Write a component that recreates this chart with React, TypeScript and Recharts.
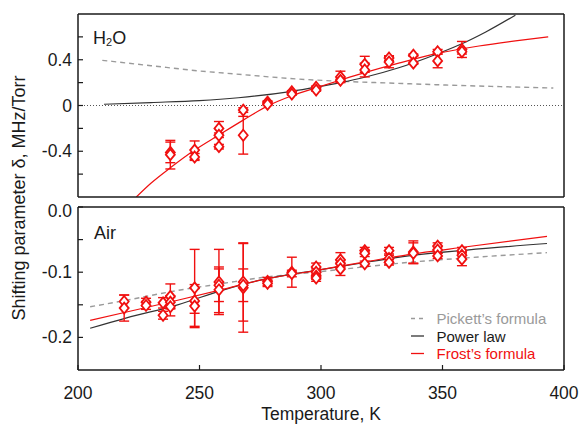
import React from 'react';
import { ComposedChart, Line, Scatter, XAxis, YAxis, ErrorBar, ReferenceLine } from 'recharts';

const RED = '#f01010';
const GREY = '#9a9a9a';
const DARK = '#333333';
const INK = '#1a1a1a';
const FONT = '"Liberation Sans", Arial, Helvetica, sans-serif';

// x axis (temperature, K)
const xTicks = [200, 250, 300, 350, 400];

// H2O panel: measured shifts
const h2oT = [238, 238, 248, 248, 258, 258, 258, 268, 268, 278, 278, 288, 288, 298, 298, 308, 308, 318, 318, 328, 328, 338, 338, 348, 348, 358, 358];
const h2oDelta = [-0.41, -0.43, -0.39, -0.45, -0.2, -0.26, -0.36, -0.04, -0.26, 0.03, 0.01, 0.12, 0.1, 0.16, 0.135, 0.25, 0.22, 0.36, 0.31, 0.415, 0.38, 0.44, 0.37, 0.47, 0.39, 0.49, 0.47];
const h2oErr = [0.09, 0.125, 0.08, 0.03, 0.06, 0.02, 0.02, 0.02, 0.165, 0.01, 0.01, 0.01, 0.01, 0.01, 0.01, 0.05, 0.01, 0.07, 0.06, 0.02, 0.05, 0.01, 0.01, 0.02, 0.06, 0.07, 0.02];

// H2O panel: fitted curves
const h2oPickettT = [210, 230, 250, 265, 290, 310, 330, 350, 370, 395.6];
const h2oPickett = [0.395, 0.348, 0.302, 0.275, 0.232, 0.21, 0.195, 0.18, 0.167, 0.153];
const h2oPowerT = [210.7, 230, 250, 266, 288, 298, 308, 318, 332, 348, 358, 368, 380];
const h2oPower = [0.011, 0.026, 0.043, 0.068, 0.124, 0.16, 0.2, 0.247, 0.33, 0.453, 0.54, 0.645, 0.79];
const h2oFrostT = [224, 230, 238, 248, 258, 268, 278, 288, 298, 308, 318, 332, 348, 365, 380, 393.5];
const h2oFrost = [-0.8, -0.68, -0.545, -0.39, -0.258, -0.128, -0.005, 0.085, 0.155, 0.222, 0.287, 0.37, 0.455, 0.52, 0.565, 0.6];

const h2oYTicks = [-0.6, -0.4, -0.2, 0, 0.2, 0.4, 0.6];
const h2oYLabels: Record<string, string> = { '0.4': '0.4', '0': '0', '-0.4': '-0.4' };

// Air panel: measured shifts
const airT = [219, 219, 228, 228, 235, 235, 238, 238, 238, 248, 248, 248, 258, 258, 258, 268, 268, 268, 278, 278, 288, 288, 298, 298, 298, 298, 308, 308, 308, 318, 318, 318, 328, 328, 328, 338, 338, 348, 348, 348, 358, 358, 358];
const airDelta = [-0.145, -0.155, -0.146, -0.151, -0.147, -0.166, -0.137, -0.146, -0.153, -0.124, -0.144, -0.152, -0.115, -0.12, -0.127, -0.115, -0.124, -0.12, -0.114, -0.117, -0.1, -0.102, -0.092, -0.1, -0.106, -0.109, -0.081, -0.087, -0.095, -0.067, -0.071, -0.087, -0.067, -0.079, -0.085, -0.069, -0.071, -0.06, -0.066, -0.075, -0.067, -0.074, -0.08];
const airErr = [0.01, 0.02, 0.006, 0.006, 0.008, 0.006, 0.019, 0.01, 0.014, 0.059, 0.019, 0.033, 0.05, 0.025, 0.035, 0.06, 0.068, 0.025, 0.006, 0.005, 0.023, 0.005, 0.006, 0.005, 0.005, 0.005, 0.011, 0.005, 0.01, 0.005, 0.005, 0.004, 0.005, 0.005, 0.004, 0.017, 0.016, 0.005, 0.005, 0.004, 0.005, 0.005, 0.01];

// Air panel: fitted curves
const airCurveT = [205, 220, 241, 260, 274, 300, 320, 336, 360, 393];
const airPickett = [-0.153, -0.143, -0.128, -0.117, -0.109, -0.099, -0.091, -0.085, -0.078, -0.07];
const airPower = [-0.186, -0.17, -0.15, -0.127, -0.113, -0.096, -0.084, -0.075, -0.066, -0.056];
const airFrost = [-0.174, -0.161, -0.143, -0.126, -0.113, -0.096, -0.083, -0.073, -0.061, -0.045];

const airYTicks = [-0.2, -0.15, -0.1, -0.05, 0];
const airYLabels: Record<string, string> = { '0': '0.0', '-0.1': '-0.1', '-0.2': '-0.2' };

const legendItems = [
  { name: 'Pickett\u2019s formula', stroke: GREY, dash: '4 4', text: GREY },
  { name: 'Power law', stroke: DARK, dash: undefined, text: INK },
  { name: 'Frost\u2019s formula', stroke: RED, dash: undefined, text: RED },
];

const toPoints = (t: number[], d: number[], e?: number[]) =>
  t.map((T, i) => ({ T, d: d[i], e: e ? e[i] : 0 }));

const Diamond = (props: any) => {
  const { cx, cy } = props;
  if (cx == null || cy == null) return null;
  return (
    <path
      d={`M${cx},${cy - 5.5}L${cx + 4.5},${cy}L${cx},${cy + 5.5}L${cx - 4.5},${cy}Z`}
      fill="#fff"
      stroke={RED}
      strokeWidth={1.8}
    />
  );
};

const axisLine = { stroke: INK, strokeWidth: 1.5 };
const tickLine = { stroke: INK, strokeWidth: 1.2 };
const tickStyle = { fontSize: 17.5, fill: INK, fontFamily: FONT };

const keyOf = (v: number) => String(Math.round(Number(v) * 1000) / 1000 || 0);

// y tick label; the top label of the Air panel sits a little lower, as in the original
const yTick = (labels: Record<string, string>, topValue: number) => (p: any) => {
  const v = Number(p.payload?.value);
  const label = labels[keyOf(v)];
  if (!label) return <g />;
  const shift = Math.abs(v - topValue) < 1e-6 ? 4 : 0;
  return (
    <text x={p.x} y={p.y + shift} textAnchor="end" dominantBaseline="central" fontSize={17.5} fill={INK} fontFamily={FONT}>
      {label}
    </text>
  );
};

const curve = (data: any[], stroke: string, dash?: string, width = 1.2) => (
  <Line
    data={data}
    dataKey="d"
    type="monotone"
    stroke={stroke}
    strokeWidth={width}
    strokeDasharray={dash}
    dot={false}
    activeDot={false}
    isAnimationActive={false}
  />
);

const points = (data: any[]) => (
  <Scatter data={data} dataKey="d" shape={Diamond} isAnimationActive={false}>
    <ErrorBar dataKey="e" direction="y" width={5} stroke={RED} strokeWidth={1.4} isAnimationActive={false} />
  </Scatter>
);

const App = () => {
  const h2oPoints = toPoints(h2oT, h2oDelta, h2oErr);
  const airPoints = toPoints(airT, airDelta, airErr);

  return (
    <div style={{ position: 'absolute', left: 0, top: 0, width: 583, height: 424, background: '#fff', fontFamily: FONT }}>
      {/* H2O panel */}
      <div style={{ position: 'absolute', left: 0, top: 0 }}>
        <ComposedChart width={583} height={205} margin={{ top: 0, right: 0, bottom: 0, left: 0 }}>
          <XAxis dataKey="T" type="number" domain={[200, 400]} ticks={xTicks} interval={0} tick={false} tickSize={-5} height={8} axisLine={axisLine} tickLine={tickLine} allowDataOverflow />
          <XAxis xAxisId="top" orientation="top" type="number" domain={[200, 400]} ticks={xTicks} interval={0} tick={false} tickSize={-5} height={14} axisLine={axisLine} tickLine={tickLine} />
          <YAxis dataKey="d" type="number" domain={[-0.8, 0.8]} ticks={h2oYTicks} interval={0} width={78} tickSize={-5} tickMargin={11} tick={yTick(h2oYLabels, 99)} axisLine={axisLine} tickLine={tickLine} allowDataOverflow />
          <YAxis yAxisId="r" orientation="right" type="number" domain={[-0.8, 0.8]} ticks={h2oYTicks} interval={0} tick={false} width={19} tickSize={-5} axisLine={axisLine} tickLine={tickLine} />
          <ReferenceLine y={0} stroke="#555" strokeDasharray="1 2" strokeWidth={1} />
          {curve(toPoints(h2oPickettT, h2oPickett), GREY, '5 4', 1.4)}
          {curve(toPoints(h2oPowerT, h2oPower), DARK)}
          {curve(toPoints(h2oFrostT, h2oFrost), RED)}
          {points(h2oPoints)}
        </ComposedChart>
      </div>

      {/* Air panel */}
      <div style={{ position: 'absolute', left: 0, top: 193 }}>
        <ComposedChart width={583} height={231} margin={{ top: 0, right: 0, bottom: 0, left: 0 }}>
          <XAxis
            dataKey="T"
            type="number"
            domain={[200, 400]}
            ticks={xTicks}
            interval={0}
            tickSize={-5}
            tickMargin={22}
            height={54}
            tick={tickStyle}
            axisLine={axisLine}
            tickLine={tickLine}
            allowDataOverflow
            label={{ value: 'Temperature, K', position: 'insideBottom', offset: 4, fontSize: 17.5, fill: INK, fontFamily: FONT }}
          />
          <XAxis xAxisId="top" orientation="top" type="number" domain={[200, 400]} ticks={xTicks} interval={0} tick={false} tickSize={-5} height={14} axisLine={axisLine} tickLine={tickLine} />
          <YAxis dataKey="d" type="number" domain={[-0.25, 0]} ticks={airYTicks} interval={0} width={78} tickSize={-5} tickMargin={11} tick={yTick(airYLabels, 0)} axisLine={axisLine} tickLine={tickLine} allowDataOverflow />
          <YAxis yAxisId="r" orientation="right" type="number" domain={[-0.25, 0]} ticks={airYTicks} interval={0} tick={false} width={19} tickSize={-5} axisLine={axisLine} tickLine={tickLine} />
          {curve(toPoints(airCurveT, airPickett), GREY, '5 4', 1.4)}
          {curve(toPoints(airCurveT, airPower), DARK)}
          {curve(toPoints(airCurveT, airFrost), RED)}
          {points(airPoints)}
        </ComposedChart>
      </div>

      {/* panel labels, shared y title, legend */}
      <svg width={583} height={424} style={{ position: 'absolute', left: 0, top: 0, pointerEvents: 'none' }} fontFamily={FONT}>
        <text x={93} y={43.5} fontSize={18} fill={INK}>
          H<tspan fontSize={11} dy={2}>2</tspan><tspan dy={-2}>O</tspan>
        </text>
        <text x={94} y={238.5} fontSize={18} fill={INK}>Air</text>
        <text transform="translate(19,198) rotate(-90)" textAnchor="middle" dominantBaseline="central" fontSize={18} fill={INK}>
          Shifting parameter δ, MHz/Torr
        </text>
        {legendItems.map((it, i) => {
          const y = 318.5 + i * 17.5;
          return (
            <g key={it.name}>
              <line x1={411} x2={424} y1={y} y2={y} stroke={it.stroke} strokeWidth={1.3} strokeDasharray={it.dash} />
              <text x={436.5} y={y} dominantBaseline="central" fontSize={15} fill={it.text}>{it.name}</text>
            </g>
          );
        })}
      </svg>
    </div>
  );
};

export default App;
